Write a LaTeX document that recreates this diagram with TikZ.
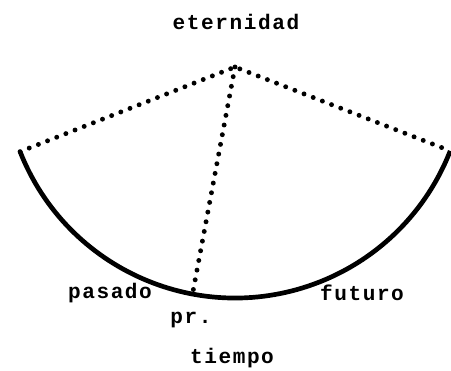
\documentclass[tikz,border=0pt]{standalone}
\usepackage{fontspec}
\newfontfamily\typewriter[LetterSpace=7.5]{Liberation Mono}
\usetikzlibrary{positioning,calc}
\tikzset{
  word/.style={font=\typewriter\bfseries\fontsize{18}{18}\selectfont, inner sep=0pt},
  timeline/.style={line width=4pt, black},
  dotline/.style={line width=4.2pt, line cap=round, dash pattern=on 0pt off 8.4pt},
}
\begin{document}
\begin{tikzpicture}[x=0.03cm, y=0.03cm]
\useasboundingbox (0,0) rectangle (451,371);
% eternity point and the circle of time around it
\coordinate (ap) at (235,304);
\coordinate (pas) at ($(ap)+(201.5:231)$);
\coordinate (fut) at ($(ap)+(338.7:231)$);
\coordinate (pre) at ($(ap)+(259.4:231)$);

\draw[timeline] (pas) arc[start angle=201.5, end angle=338.7, radius=231];
\draw[dotline] (pas) -- (ap) -- (fut);
\draw[dotline] (ap) -- (pre);

\node[word] (eternidad) at (236,349) {eternidad};
\node[word] (pasado) at (110,78) {pasado};
\node[word] (futuro) at (362,78) {futuro};
\node[word] (pr) at (191,51) {pr.};
\node[word] (tiempo) at (232,13) {tiempo};
\end{tikzpicture}
\end{document}
